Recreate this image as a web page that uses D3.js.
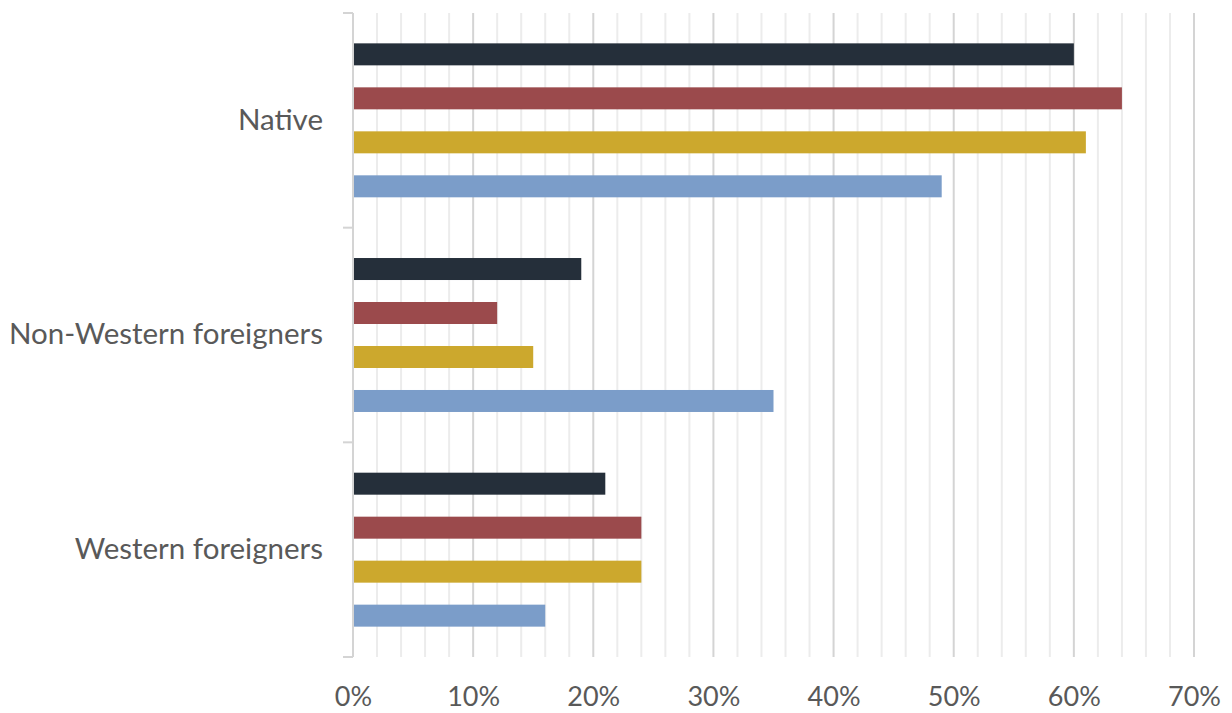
<!DOCTYPE html>
<html><head><meta charset="utf-8">
<script src="https://cdn.jsdelivr.net/npm/d3@7"></script>
<style>body{margin:0;background:#fff}svg{display:block}</style>
</head><body>
<svg id="c" width="1232" height="713"></svg>
<script>
const categories = ["Native", "Non-Western foreigners", "Western foreigners"];
const seriesNames = ["Series 1", "Series 2", "Series 3", "Series 4"];
const series1 = [60, 19, 21];
const series2 = [64, 12, 24];
const series3 = [61, 15, 24];
const series4 = [49, 35, 16];
const colors = ["#252f3a", "#9b4a4c", "#cca82d", "#7b9dc9"];
const majorTicks = [0, 10, 20, 30, 40, 50, 60, 70];

(function () {
const allSeries = [series1, series2, series3, series4];
const svg = d3.select("#c");
const mLeft = 353, mRight = 1194, mTop = 13, mBottom = 657;
const x = d3.scaleLinear().domain([0, 70]).range([mLeft, mRight]);
const y = d3.scaleBand().domain(categories).range([mTop, mBottom]);
const inner = d3.scaleBand().domain(seriesNames).range([0, y.bandwidth()]).paddingInner(0.5).paddingOuter(0.69);

const minor = d3.range(2, 70, 2).filter(v => v % 10 !== 0);
svg.append("g").selectAll("line").data(minor).join("line")
  .attr("x1", d => x(d)).attr("x2", d => x(d)).attr("y1", mTop).attr("y2", mBottom)
  .attr("stroke", "#ececec").attr("stroke-width", 2);
svg.append("g").selectAll("line").data(majorTicks.slice(1)).join("line")
  .attr("x1", d => x(d)).attr("x2", d => x(d)).attr("y1", mTop).attr("y2", mBottom)
  .attr("stroke", "#d4d4d4").attr("stroke-width", 2);

categories.forEach((cat, ci) => {
  allSeries.forEach((s, si) => {
    svg.append("rect")
      .attr("x", x(0)).attr("y", y(cat) + inner(seriesNames[si]))
      .attr("width", x(s[ci]) - x(0)).attr("height", inner.bandwidth())
      .attr("fill", colors[si]);
  });
});

const yAxis = d3.axisLeft(y).tickSize(0).tickPadding(30);
const gy = svg.append("g").attr("transform", `translate(${mLeft},0)`).call(yAxis);
gy.select(".domain").remove();
gy.selectAll("text").attr("font-family", "Lato, 'Open Sans', sans-serif").attr("font-size", 29.5).attr("fill", "#595959");
svg.append("line").attr("x1", mLeft).attr("x2", mLeft).attr("y1", mTop).attr("y2", mBottom)
  .attr("stroke", "#d4d4d4").attr("stroke-width", 2);
const bounds = categories.map(c => y(c)).concat([mBottom]);
svg.append("g").selectAll("line").data(bounds).join("line")
  .attr("x1", mLeft - 10).attr("x2", mLeft).attr("y1", d => d).attr("y2", d => d)
  .attr("stroke", "#d4d4d4").attr("stroke-width", 2);

const xAxis = d3.axisBottom(x).tickValues(majorTicks).tickSize(0).tickPadding(30).tickFormat(d => d + "%");
const gx = svg.append("g").attr("transform", `translate(0,${mBottom})`).call(xAxis);
gx.select(".domain").remove();
gx.selectAll("text").attr("font-family", "Lato, 'Open Sans', sans-serif").attr("font-size", 27).attr("fill", "#595959");
})();
</script>
</body></html>
